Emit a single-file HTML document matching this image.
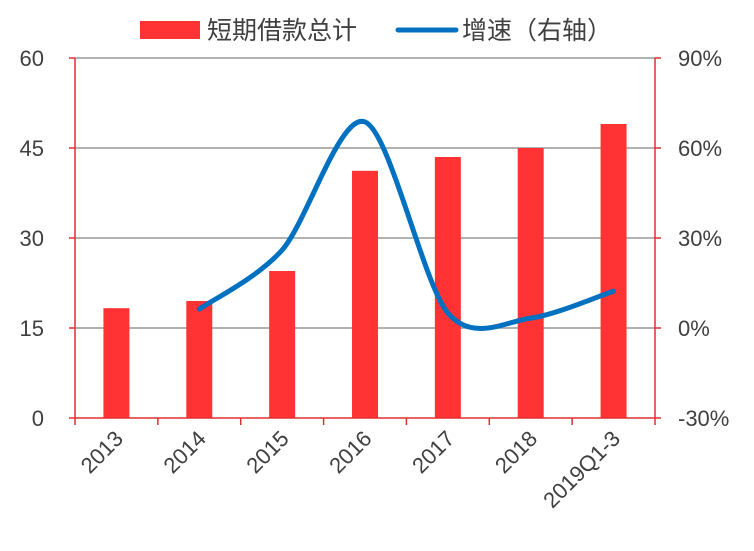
<!DOCTYPE html>
<html><head><meta charset="utf-8"><style>
body{margin:0;background:#fff;}
text{font-family:"Liberation Sans","Noto Sans CJK SC",sans-serif;fill:#404040;}
</style></head><body>
<svg id="c" width="754" height="546"></svg>
<script>
const categories=["2013","2014","2015","2016","2017","2018","2019Q1-3"];
const loans=[18.3,19.5,24.5,41.2,43.5,45,49];
const growth=[null,6.3,26,68.7,5,3.3,12.3];
const leftTicks=[0,15,30,45,60];
const rightTicks=[-30,0,30,60,90];
const L=75,R=655,T=58,B=418;
const svg=document.getElementById('c');
const NS='http://www.w3.org/2000/svg';
const bw=(R-L)/categories.length;
const xc=i=>L+bw*(i+0.5);
const yl=v=>B-(v-0)/60*(B-T);
const yr=v=>B-(v+30)/120*(B-T);
function mk(t,a){const e=document.createElementNS(NS,t);for(const k in a)e.setAttribute(k,a[k]);svg.appendChild(e);return e;}
leftTicks.forEach((v,i)=>{
 if(v>0){const g=mk('line',{x1:L,x2:R,y1:yl(v),y2:yl(v),stroke:'#999','stroke-width':1.5});
 
 }
 const t=mk('text',{x:44,y:yl(v)+8,'text-anchor':'end','font-size':22});t.textContent=v;
 
 
 mk('line',{x1:L-6,x2:L,y1:yl(v),y2:yl(v),stroke:'#e03030','stroke-width':1.5});
});
rightTicks.forEach(v=>{
 const t=mk('text',{x:678,y:yr(v)+8,'font-size':22});t.textContent=v+'%';
 
 
 mk('line',{x1:R,x2:R+6,y1:yr(v),y2:yr(v),stroke:'#e03030','stroke-width':1.5});
});
categories.forEach((c,i)=>{
 const h=yl(0)-yl(loans[i]);
 const b=mk('rect',{x:xc(i)-13,y:yl(loans[i]),width:26,height:h,fill:'#ff3333'});
 
 
 const t=mk('text',{'font-size':22,'text-anchor':'end',transform:`translate(${xc(i)+8},${B+22}) rotate(-45)`});t.textContent=c;
 
 
});
for(let i=0;i<=categories.length;i++)mk('line',{x1:L+bw*i,x2:L+bw*i,y1:B,y2:B+7,stroke:'#e03030','stroke-width':1.5});
const ax=mk('line',{x1:L,x2:R,y1:B,y2:B,stroke:'#e03030','stroke-width':1.5});


mk('line',{x1:L,x2:L,y1:T,y2:B,stroke:'#e03030','stroke-width':1.5});
mk('line',{x1:R,x2:R,y1:T,y2:B,stroke:'#e03030','stroke-width':1.5});
const pts=[];growth.forEach((g,i)=>{if(g!==null)pts.push([xc(i),yr(g)]);});
let d=`M${pts[0][0]},${pts[0][1]}`;
for(let i=0;i<pts.length-1;i++){
 const p0=pts[Math.max(0,i-1)],p1=pts[i],p2=pts[i+1],p3=pts[Math.min(pts.length-1,i+2)];
 const k=0.15;
 d+=` C${p1[0]+(p2[0]-p0[0])*k},${p1[1]+(p2[1]-p0[1])*k} ${p2[0]-(p3[0]-p1[0])*k},${p2[1]-(p3[1]-p1[1])*k} ${p2[0]},${p2[1]}`;
}
const ln=mk('path',{d:d,fill:'none',stroke:'#0070c0','stroke-width':5,'stroke-linecap':'round'});


const lr=mk('rect',{x:140,y:21,width:60,height:18,fill:'#ff3333'});


const lt=mk('text',{x:207,y:39,'font-size':25});lt.textContent='短期借款总计';


const ll=mk('line',{x1:398,x2:456,y1:30,y2:30,stroke:'#0070c0','stroke-width':5,'stroke-linecap':'round'});


const lt2=mk('text',{x:462,y:39,'font-size':25});lt2.textContent='增速（右轴）';


</script>
</body></html>
